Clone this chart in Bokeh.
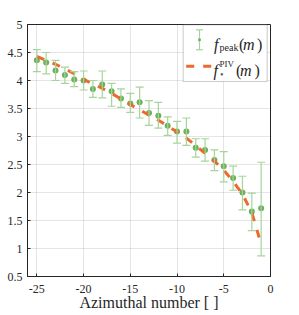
from bokeh.plotting import figure
from bokeh.models import (ColumnDataSource, Whisker, TeeHead, Range1d, FixedTicker,
                          Label, BoxAnnotation)
from bokeh.embed import file_html
from bokeh.resources import INLINE

# ---------------- data ----------------
azimuthal_m = [-25, -24, -23, -22, -21, -20, -19, -18, -17, -16, -15, -14, -13,
               -12, -11, -10, -9, -8, -7, -6, -5, -4, -3, -2, -1]
f_peak = [4.36, 4.32, 4.18, 4.10, 4.02, 4.00, 3.85, 3.93, 3.81, 3.68, 3.59, 3.61, 3.42,
          3.37, 3.19, 3.09, 3.09, 2.80, 2.76, 2.58, 2.47, 2.26, 2.00, 1.66, 1.72]
f_peak_upper = [4.55, 4.50, 4.36, 4.24, 4.16, 4.17, 4.00, 4.17, 3.95, 3.85, 3.77, 3.88, 3.64,
                3.61, 3.35, 3.27, 3.33, 2.96, 2.96, 2.76, 2.73, 2.47, 2.29, 1.99, 2.54]
f_peak_lower = [4.16, 4.12, 4.00, 3.95, 3.89, 3.83, 3.70, 3.69, 3.54, 3.52, 3.43, 3.33, 3.20,
                3.15, 3.02, 2.88, 2.84, 2.63, 2.56, 2.39, 2.19, 2.04, 1.69, 1.32, 0.87]
f_piv = [4.43, 4.36, 4.29, 4.21, 4.12, 4.02, 3.94, 3.86, 3.77, 3.67, 3.57, 3.48, 3.38,
         3.29, 3.19, 3.08, 2.97, 2.84, 2.70, 2.56, 2.40, 2.20, 1.97, 1.64, 1.08]

x_ticks = [-25, -20, -15, -10, -5, 0]
x_tick_labels = ["-25", "-20", "-15", "-10", "-5", "0"]
y_ticks = [0.5, 1, 1.5, 2, 2.5, 3, 3.5, 4, 4.5, 5]
y_tick_labels = ["0.5", "1", "1.5", "2", "2.5", "3", "3.5", "4", "4.5", "5"]
x_label = "Azimuthal number [ ]"

# ---------------- style ----------------
X0, X1 = -26, 0
Y0, Y1 = 0.5, 5
FRAME_W, FRAME_H = 243, 252
DARK = "#262626"
GREEN = "#6BB159"
GREEN_LIGHT = "#A6D49A"
ORANGE = "#EC6A2C"
SERIF = "'Liberation Serif', serif"
DASH = "8 9"

p = figure(width=274, height=315, x_range=Range1d(X0, X1), y_range=Range1d(Y0, Y1),
           output_backend="svg", toolbar_location=None,
           min_border_left=27, min_border_top=24, min_border_right=4, min_border_bottom=39)
p.background_fill_color = "white"
p.border_fill_color = "white"
p.outline_line_color = DARK
p.outline_line_width = 1

for ax in (p.xaxis[0], p.yaxis[0]):
    ax.axis_line_color = DARK
    ax.major_tick_line_color = DARK
    ax.major_tick_in = 3
    ax.major_tick_out = 0
    ax.minor_tick_line_color = None
    ax.major_label_text_font = SERIF
    ax.major_label_text_font_size = "12px"
    ax.major_label_text_color = DARK

p.xaxis.ticker = FixedTicker(ticks=x_ticks)
p.xaxis.major_label_overrides = {t: l for t, l in zip(x_ticks, x_tick_labels)}
p.xaxis.major_label_standoff = 8
p.xaxis.axis_label = x_label
p.xaxis.axis_label_text_font = SERIF
p.xaxis.axis_label_text_font_size = "16px"
p.xaxis.axis_label_text_font_style = "normal"
p.xaxis.axis_label_text_color = DARK
p.xaxis.axis_label_standoff = -2

p.yaxis.ticker = FixedTicker(ticks=y_ticks)
p.yaxis.major_label_overrides = {t: l for t, l in zip(y_ticks, y_tick_labels)}
p.yaxis.major_label_standoff = 5

p.grid.grid_line_color = DARK
p.grid.grid_line_alpha = 0.12

# ---------------- data marks ----------------
src = ColumnDataSource(dict(m=azimuthal_m, f=f_peak, up=f_peak_upper, lo=f_peak_lower,
                            piv=f_piv))
wh = Whisker(base="m", upper="up", lower="lo", source=src, line_color=GREEN_LIGHT,
             line_width=1.2, level="glyph",
             upper_head=TeeHead(size=8, line_color=GREEN_LIGHT, line_width=1.2),
             lower_head=TeeHead(size=8, line_color=GREEN_LIGHT, line_width=1.2))
p.add_layout(wh)
p.scatter("m", "f", source=src, size=6, color=GREEN, line_width=0)
p.line("m", "piv", source=src, line_color=ORANGE, line_width=3, line_dash=DASH)

# ---------------- legend (drawn by hand, pixel offsets from frame top-right) ----------------
SX = FRAME_W / (X1 - X0)
SY = FRAME_H / (Y1 - Y0)


def lx(dx):
    return X1 + dx / SX


def ly(dy):
    return Y1 - dy / SY


p.add_layout(BoxAnnotation(left=lx(-87.3), right=lx(-3.3), top=ly(0.3), bottom=ly(57),
                           fill_color="white", fill_alpha=1, line_color=DARK,
                           line_width=0.8, level="annotation"))
# errorbar symbol
ex = lx(-71)
p.segment(x0=[ex], y0=[ly(5.3)], x1=[ex], y1=[ly(25.3)], line_color=GREEN_LIGHT,
          line_width=1.2, level="overlay")
p.segment(x0=[lx(-74.5), lx(-74.5)], y0=[ly(5.3), ly(25.3)],
          x1=[lx(-67.5), lx(-67.5)], y1=[ly(5.3), ly(25.3)],
          line_color=GREEN_LIGHT, line_width=1.2, level="overlay")
p.scatter(x=[ex], y=[ly(15.3)], size=3, color=GREEN, line_width=0, level="overlay")
# dashed line symbol
p.line(x=[lx(-84.3), lx(-59.3)], y=[ly(41.7), ly(41.7)], line_color=ORANGE,
       line_width=3, line_dash=DASH, level="overlay")


def txt(dx, dy, s, size, style="normal", font=SERIF):
    p.add_layout(Label(x=lx(dx), y=ly(dy), text=s, text_font=font,
                       text_font_size=size, text_font_style=style, text_color=DARK,
                       text_baseline="alphabetic", text_align="left"))


# f_peak(m)
txt(-56.5, 19.5, "f", "16px", "italic")
txt(-51.0, 22.5, "peak", "10px")
txt(-31.5, 19.5, "(", "16px")
txt(-27.5, 19.5, "m", "16px", "italic")
txt(-13.5, 19.5, ")", "16px")
# f_*^PIV(m)
txt(-57.0, 46.0, "f", "16px", "italic")
txt(-51.0, 39.0, "PIV", "9px")
txt(-51.5, 49.5, "\u22c6", "9px", font="'DejaVu Sans', sans-serif")
txt(-34.5, 46.0, "(", "16px")
txt(-30.5, 46.0, "m", "16px", "italic")
txt(-16.0, 46.0, ")", "16px")

open("out.html", "w").write(file_html(p, INLINE))
